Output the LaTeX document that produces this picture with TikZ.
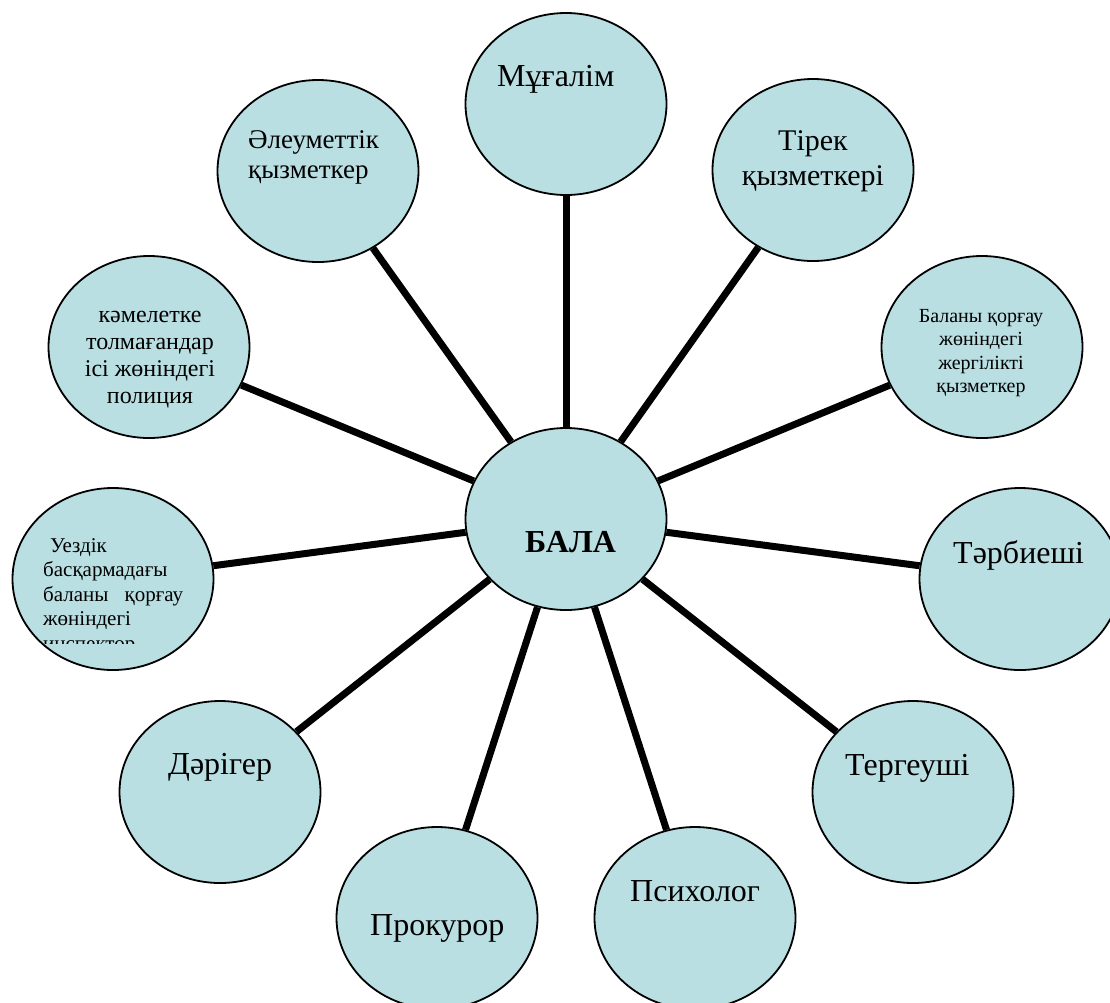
\documentclass[tikz,border=0pt]{standalone}
\usepackage{fontspec}
\setmainfont{Liberation Serif}
\usepackage{tikz}
\usetikzlibrary{shapes.geometric}
\definecolor{bubble}{RGB}{185,223,227}

\begin{document}
\begin{tikzpicture}[x=1pt,y=-1pt,
    bub/.style={ellipse,draw,line width=1.8pt,fill=bubble,
                minimum width=201pt,minimum height=182pt,inner sep=0pt},
    spoke/.style={line width=7pt},
    big/.style={inner sep=0pt,anchor=base west,font=\fontsize{32}{37}\selectfont},
    small/.style={inner sep=0pt,anchor=north,align=center}]
  \useasboundingbox (0,0) rectangle (1110,1002);

  \node[bub] (bala)   at (566,519) {};
  \node[bub] (mug)    at (566,104) {};
  \node[bub] (tirek)  at (813,170) {};
  \node[bub] (korgau) at (982,347) {};
  \node[bub] (tarb)   at (1020,579) {};
  \node[bub] (terg)   at (913,792) {};
  \node[bub] (psih)   at (695,918) {};
  \node[bub] (prok)   at (437,918) {};
  \node[bub] (dar)    at (220,792) {};
  \node[bub] (uezd)   at (113,579) {};
  \node[bub] (kamel)  at (149,347) {};
  \node[bub] (aleum)  at (318,171) {};

  \path[spoke] (bala) edge (mug)
                      edge (tirek)
                      edge (korgau)
                      edge (tarb)
                      edge (terg)
                      edge (psih)
                      edge (prok)
                      edge (dar)
                      edge (uezd)
                      edge (kamel)
                      edge (aleum);

  % texts
  \node[big,font=\fontsize{32}{37}\selectfont\bfseries] (balaT) at (525,552) {БАЛА};
  \node[big] (mugT)  at (497,86)  {Мұғалім};
  \node[big] (tarbT) at (953,563) {Тәрбиеші};
  \node[big] (tergT) at (845,775) {Тергеуші};
  \node[big] (psihT) at (630,901) {Психолог};
  \node[big] (prokT) at (370,935) {Прокурор};
  \node[big] (darT)  at (168,774) {Дәрігер};

  \node[small,font=\fontsize{30}{35}\selectfont] (tirekT) at (813,125.5)
       {\strut Тірек\\қызметкері};
  \node[small,font=\fontsize{20}{23.5}\selectfont] (korgauT) at (981,305.5)
       {\strut Баланы қорғау\\жөніндегі\\жергілікті\\қызметкер};
  \node[small,font=\fontsize{24}{27}\selectfont] (kamelT) at (150,303)
       {\strut кәмелетке\\толмағандар\\ісі жөніндегі\\полиция};
  \node[small,anchor=north west,align=left,font=\fontsize{27}{30}\selectfont] (aleumT) at (248,127)
       {\strut Әлеуметтік\\қызметкер};
  \begin{scope}
    \clip (0,0) rectangle (1110,643);
    \node[small,anchor=north west,align=left,text width=140pt,
          font=\fontsize{21}{24.5}\selectfont] (uezdT) at (43,535)
       {\strut\hspace*{7pt}Уездік\\басқармадағы\\баланы\hfill қорғау\\жөніндегі\\инспектор};
  \end{scope}
\end{tikzpicture}
\end{document}
